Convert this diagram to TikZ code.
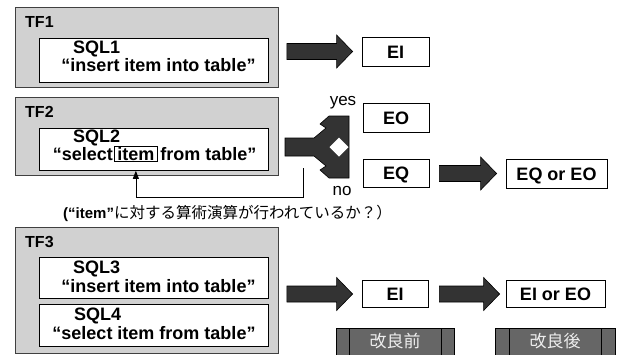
\documentclass[tikz,border=0pt]{standalone}
\usepackage{fontspec}
\setmainfont{Liberation Sans}
\newfontfamily\jpfont{Noto Sans CJK JP}
\usetikzlibrary{arrows.meta,calc}
\definecolor{outerfill}{gray}{0.82}
\definecolor{arrowfill}{HTML}{333333}
\definecolor{tagfill}{HTML}{666666}
\definecolor{tagtext}{HTML}{EEEEEE}
\newcommand\blockarrow[4]{%
  \draw[blockarr] let \p1=(#1.east), \p2=(#2.west) in
   (\x1+#3pt,\y2+8pt) -- (\x2-#4pt-16pt,\y2+8pt) -- (\x2-#4pt-16pt,\y2+16.5pt) -- (\x2-#4pt,\y2)
   -- (\x2-#4pt-16pt,\y2-16.5pt) -- (\x2-#4pt-16pt,\y2-8pt) -- (\x1+#3pt,\y2-8pt) -- cycle;}
\begin{document}
\begin{tikzpicture}[x=1pt,y=-1pt,
  outerbox/.style={draw=black!75, line width=0.9pt, fill=outerfill, inner sep=0, anchor=north west},
  innerbox/.style={draw=black, line width=0.8pt, fill=white, inner sep=0, anchor=north west},
  tflabel/.style={font=\bfseries\fontsize{16}{16}\selectfont, anchor=base west, inner sep=0},
  sqltxt/.style={font=\bfseries\fontsize{18}{18}\selectfont, inner sep=0},
  resbox/.style={draw=black, line width=0.8pt, fill=white, font=\bfseries\fontsize{18}{18}\selectfont,
     inner sep=0, text height=13pt, text depth=0pt},
  blockarr/.style={draw=black, line width=0.6pt, fill=arrowfill},
  conn/.style={draw=black, line width=0.7pt},
  yn/.style={font=\fontsize{17}{17}\selectfont, inner sep=0, anchor=base},
  tag/.style={draw=black, line width=0.8pt, fill=tagfill, inner sep=0, anchor=north west},
  tagtxt/.style={font=\jpfont\fontsize{17}{17}\selectfont, text=tagtext, inner sep=0},
  ]
\useasboundingbox (0,0) rectangle (621,354);
% ---------- TF1 ----------
\node[outerbox, minimum width=263pt, minimum height=80pt] (tf1) at (15,7) {};
\node[innerbox, minimum width=229pt, minimum height=44pt] (in1) at (39,38) {};
\node[tflabel] (tf1l) at (25,27) {TF1};
\node[sqltxt, anchor=base west] (sql1) at (73,53) {SQL1};
\node[sqltxt, anchor=base] (sql1t) at (158.5,71) {“insert item into table”};
% ---------- TF2 ----------
\node[outerbox, minimum width=263pt, minimum height=78pt] (tf2) at (15,97) {};
\node[innerbox, minimum width=229pt, minimum height=42pt] (in2) at (39,128) {};
\node[tflabel] (tf2l) at (25,117) {TF2};
\node[sqltxt, anchor=base west] (sql2) at (73,142) {SQL2};
\node[sqltxt, anchor=base east] (s2a) at (113,160) {“select};
\node[sqltxt, anchor=base west, draw=black, line width=0.7pt, inner xsep=3pt, inner ysep=1pt,
   text height=13pt, text depth=0.5pt]
   (s2item) at ([xshift=1pt]s2a.base east) {item};
\node[sqltxt, anchor=base west] (s2b) at ([xshift=2.5pt]s2item.base east) {from table”};
% ---------- TF3 ----------
\node[outerbox, minimum width=263pt, minimum height=126pt] (tf3) at (15,227) {};
\node[innerbox, minimum width=229pt, minimum height=41pt] (in3) at (39,257) {};
\node[innerbox, minimum width=229pt, minimum height=42pt] (in4) at (39,304) {};
\node[tflabel] (tf3l) at (25,247) {TF3};
\node[sqltxt, anchor=base west] (sql3) at (73,273) {SQL3};
\node[sqltxt, anchor=base] (sql3t) at (158.5,292) {“insert item into table”};
\node[sqltxt, anchor=base west] (sql4) at (74,320) {SQL4};
\node[sqltxt, anchor=base] (sql4t) at (154,339) {“select item from table”};
% ---------- result boxes ----------
\node[resbox, minimum width=67pt, minimum height=29pt] (ei1) at (395.5,51.5) {EI};
\node[resbox, minimum width=66pt, minimum height=29pt] (eo) at (396,117.5) {EO};
\node[resbox, minimum width=66pt, minimum height=28pt] (eq) at (396,173) {EQ};
\node[resbox, minimum width=101pt, minimum height=29pt] (eqeo) at (556.5,173.5) {EQ or EO};
\node[resbox, minimum width=66pt, minimum height=27pt] (ei3) at (395,294) {EI};
\node[resbox, minimum width=99pt, minimum height=27pt] (eieo) at (555.5,294) {EI or EO};
% ---------- block arrows ----------
\blockarrow{tf1}{ei1}{8}{9}
\blockarrow{tf3}{ei3}{8}{9}
\blockarrow{ei3}{eieo}{11}{6}
\blockarrow{eq}{eqeo}{10}{9}
% fork arrow from TF2 to EO / EQ
\draw[blockarr] (285,138) -- (314,138) -- (326,128) -- (320,124) -- (329,116) -- (349,116)
  -- (349,178) -- (329,178) -- (320,170) -- (326,166) -- (314,156) -- (285,156) -- cycle;
\fill[white] (339,137.5) -- (348.5,147) -- (339,156.5) -- (329.5,147) -- cycle;
\node[yn] (yes) at (343,105) {yes};
\node[yn] (no) at (342,195) {no};
% ---------- feedback connector ----------
\coordinate (fk) at (303,168);
\coordinate (hl) at (0,197);
\draw[conn, -{Triangle[length=8pt,width=6pt]}] (fk) |- (s2item |- hl) -- (s2item |- in2.south);
\node[anchor=base west, inner sep=0] (q) at (63,218)
  {{\bfseries\fontsize{15}{15}\selectfont (“item”}{\jpfont\fontsize{15.5}{15.5}\selectfont に対する算術演算が行われているか？）}};
% ---------- tags ----------
\node[tag, minimum width=118pt, minimum height=30pt] (tag1) at (336,328) {};
\draw[line width=0.8pt] ([xshift=13pt]tag1.north west) -- ([xshift=13pt]tag1.south west);
\draw[line width=0.8pt] ([xshift=-13pt]tag1.north east) -- ([xshift=-13pt]tag1.south east);
\node[tagtxt] (tag1t) at (395,341) {改良前};
\node[tag, minimum width=120pt, minimum height=30pt] (tag2) at (495,328) {};
\draw[line width=0.8pt] ([xshift=14pt]tag2.north west) -- ([xshift=14pt]tag2.south west);
\draw[line width=0.8pt] ([xshift=-14pt]tag2.north east) -- ([xshift=-14pt]tag2.south east);
\node[tagtxt] (tag2t) at (555,341) {改良後};
\end{tikzpicture}
\end{document}
